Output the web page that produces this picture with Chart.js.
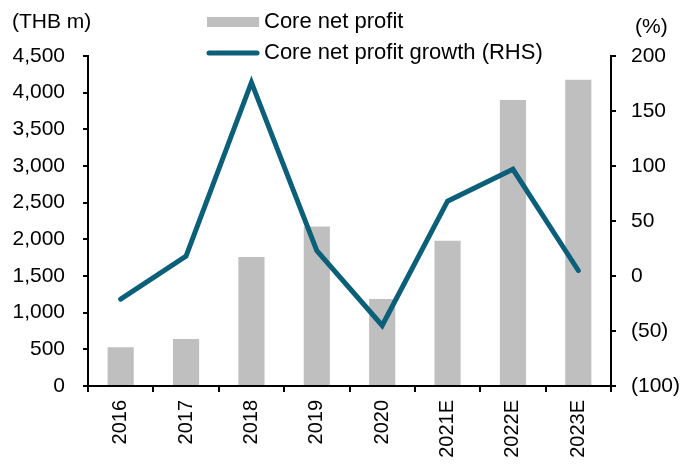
<!DOCTYPE html>
<html>
<head>
<meta charset="utf-8">
<script src="https://cdn.jsdelivr.net/npm/chart.js@4"></script>
<style>
  html, body { margin: 0; padding: 0; background: #fff; }
  #wrap { width: 695px; height: 464px; }
</style>
</head>
<body>
<div id="wrap"><canvas id="chart" width="695" height="464"></canvas></div>
<script>
// chart data
const years = ['2016', '2017', '2018', '2019', '2020', '2021E', '2022E', '2023E'];
const coreNetProfit = [530, 640, 1760, 2175, 1185, 1980, 3900, 4175];
const profitGrowth = [-21, 18, 176, 23, -45, 68, 97, 5];

const FONT = "'Liberation Sans', Arial, sans-serif";
const BAR_COLOR = '#bfbfbf';
const LINE_COLOR = '#0b5f78';

// legend and axis captions drawn on the canvas
const captions = {
  id: 'captions',
  afterDraw(chart) {
    const ctx = chart.ctx;
    ctx.save();
    ctx.font = '21px ' + FONT;
    ctx.fillStyle = '#000';
    ctx.textBaseline = 'middle';
    ctx.textAlign = 'left';
    ctx.fillText('(THB m)', 12, 22);
    ctx.fillText('(%)', 635, 27);

    // legend
    ctx.fillStyle = BAR_COLOR;
    ctx.fillRect(207, 17, 52, 10);
    ctx.strokeStyle = LINE_COLOR;
    ctx.lineWidth = 5;
    ctx.lineCap = 'round';
    ctx.beginPath();
    ctx.moveTo(209, 53);
    ctx.lineTo(257, 53);
    ctx.stroke();
    ctx.fillStyle = '#000';
    ctx.font = '22px ' + FONT;
    ctx.fillText('Core net profit', 264, 22);
    ctx.fillText('Core net profit growth (RHS)', 264, 53);
    ctx.restore();
  }
};

const yFont = { family: FONT, size: 21 };
const xFont = { family: FONT, size: 20 };

new Chart(document.getElementById('chart'), {
  data: {
    labels: years,
    datasets: [
      {
        type: 'line',
        label: 'Core net profit growth (RHS)',
        data: profitGrowth,
        yAxisID: 'yRight',
        borderColor: LINE_COLOR,
        borderWidth: 5,
        borderCapStyle: 'round',
        borderJoinStyle: 'miter',
        pointRadius: 0,
        tension: 0,
        order: 0
      },
      {
        type: 'bar',
        label: 'Core net profit',
        data: coreNetProfit,
        yAxisID: 'yLeft',
        backgroundColor: BAR_COLOR,
        categoryPercentage: 1,
        barPercentage: 0.4,
        order: 1
      }
    ]
  },
  options: {
    responsive: false,
    animation: false,
    layout: { padding: { top: 56, left: 0, right: 0, bottom: 0 } },
    plugins: {
      legend: { display: false },
      tooltip: { enabled: false }
    },
    scales: {
      x: {
        offset: true,
        grid: { drawOnChartArea: false, color: '#000', lineWidth: 2, tickLength: 6, offset: true },
        border: { color: '#000', width: 2 },
        ticks: { color: '#000', font: xFont, minRotation: 90, maxRotation: 90, padding: 8 },
        afterFit(scale) { scale.height = 464 - 386; }
      },
      yLeft: {
        position: 'left',
        min: 0,
        max: 4500,
        grid: { drawOnChartArea: false, color: '#000', lineWidth: 2, tickLength: 5 },
        border: { color: '#000', width: 2 },
        ticks: {
          stepSize: 500,
          color: '#000',
          font: yFont,
          padding: 18,
          callback: v => v.toLocaleString('en-US')
        },
        afterFit(scale) { scale.width = 88; }
      },
      yRight: {
        position: 'right',
        min: -100,
        max: 200,
        grid: { drawOnChartArea: false, color: '#000', lineWidth: 2, tickLength: 5 },
        border: { color: '#000', width: 2 },
        ticks: {
          stepSize: 50,
          color: '#000',
          font: yFont,
          padding: 15,
          callback: v => v < 0 ? '(' + Math.abs(v) + ')' : String(v)
        },
        afterFit(scale) { scale.width = 695 - 611; }
      }
    }
  },
  plugins: [captions]
});
</script>
</body>
</html>
